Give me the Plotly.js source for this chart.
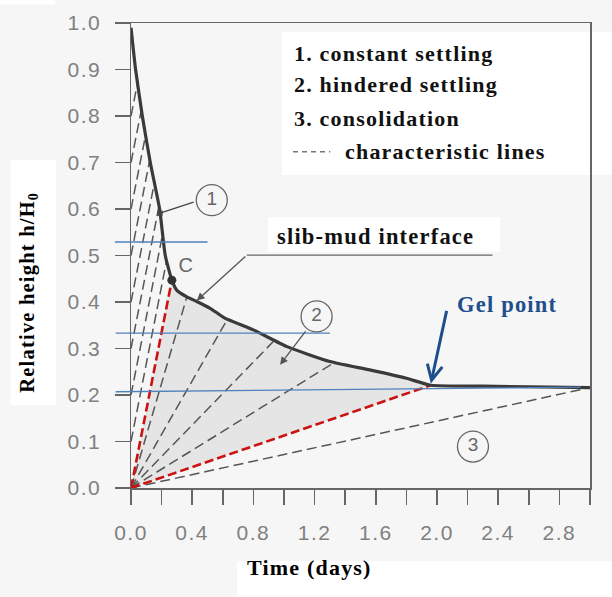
<!DOCTYPE html>
<html><head><meta charset="utf-8">
<script src="https://cdn.plot.ly/plotly-3.0.1.min.js"></script>
<style>
html,body{margin:0;padding:0;background:#fff;}
#chart{width:612px;height:597px;}
.annotation-text{letter-spacing:1.2px;}
.xtick text,.ytick text{letter-spacing:1.5px;}
</style>
</head><body><div id="chart"></div>
<script>
// ---- data ----
const curveT = [0, 0.03, 0.074, 0.126, 0.187, 0.224, 0.267, 0.30, 0.365, 0.43, 0.52, 0.61, 0.80, 1.02, 1.30, 1.56, 1.80, 1.96, 2.3, 3.0];
const curveH = [0.99, 0.90, 0.80, 0.70, 0.60, 0.50, 0.447, 0.425, 0.411, 0.401, 0.386, 0.366, 0.340, 0.304, 0.272, 0.254, 0.236, 0.221, 0.219, 0.216];
const pointC = {t: 0.267, h: 0.447};
const gelPoint = {t: 1.96, h: 0.221};
const consolEnd = {t: 3.0, h: 0.216};
// region 1 characteristics: start on the h axis, end on the interface
const r1StartH = [0.1, 0.2, 0.3, 0.4, 0.5, 0.6, 0.7, 0.8];
const r1EndT   = [0.232, 0.208, 0.183, 0.155, 0.125, 0.096, 0.067, 0.039];
const r1EndH   = [0.488, 0.548, 0.606, 0.660, 0.710, 0.760, 0.812, 0.865];
// region 2 fan from the origin
const fanEndT = [0.365, 0.63, 0.93, 1.32];
const fanEndH = [0.411, 0.363, 0.315, 0.268];
// blue reference lines
const blueStartT = [-0.105, -0.10, -0.10];
const blueStartH = [0.529, 0.333, 0.207];
const blueEndT   = [0.50, 1.30, 2.94];
const blueEndH   = [0.529, 0.333, 0.217];
// labels
const xTickVals = [0, 0.4, 0.8, 1.2, 1.6, 2.0, 2.4, 2.8];
const xTickText = ["0.0", "0.4", "0.8", "1.2", "1.6", "2.0", "2.4", "2.8"];
const legendLines = ["1. constant settling", "2. hindered settling", "3. consolidation", "characteristic lines"];
const circleLabels = ["1", "2", "3"];
const circleT = [0.528, 1.213, 2.235];
const circleH = [0.619, 0.369, 0.089];
const leader1 = {fromT: 0.419, fromH: 0.616, toT: 0.19, toH: 0.591};
const leader2 = {fromT: 1.148, fromH: 0.340, toT: 0.974, toH: 0.265};
const slibLeaderT = [2.363, 0.757];
const slibLeaderH = [0.501, 0.501];
const slibTip = {t: 0.43, h: 0.403};
const gelArrowTail = {t: 2.065, h: 0.384};
const gelTextPos = {t: 2.458, h: 0.394};
const xRange = [0, 3.0];

// ---- helpers ----
function segs(xs, ys, startsH) {
  const X = [], Y = [];
  for (let i = 0; i < xs.length; i++) {
    X.push(0, xs[i], null);
    Y.push(startsH ? startsH[i] : 0, ys[i], null);
  }
  return {X, Y};
}
const gray = '#555555';
const serif = 'Liberation Serif, Times New Roman, serif';
const sans = 'Liberation Sans, Arial, sans-serif';

// shaded region (origin -> C -> interface -> gel -> origin)
const fillT = [0], fillH = [0];
curveT.forEach((t, i) => { if (t >= pointC.t && t <= gelPoint.t) { fillT.push(t); fillH.push(curveH[i]); } });
fillT.push(0); fillH.push(0);

const r1 = segs(r1EndT, r1EndH, r1StartH);
const fan = segs(fanEndT.concat([consolEnd.t]), fanEndH.concat([consolEnd.h]));

const traces = [
  {x: fillT, y: fillH, fill: 'toself', fillcolor: 'rgba(190,190,190,0.3)', line: {width: 0}, mode: 'lines', hoverinfo: 'skip'},
  {x: r1.X, y: r1.Y, mode: 'lines', line: {color: gray, width: 1.5, dash: '10px,5px'}},
  {x: fan.X, y: fan.Y, mode: 'lines', line: {color: gray, width: 1.5, dash: '10px,5px'}},
  {x: [0, pointC.t, null, 0, gelPoint.t], y: [0, pointC.h, null, 0, gelPoint.h], mode: 'lines', line: {color: '#cc1111', width: 2.6, dash: '9px,4px'}},
  {x: slibLeaderT, y: slibLeaderH, mode: 'lines', line: {color: '#666', width: 1.3}},
  {x: curveT, y: curveH, mode: 'lines', line: {color: '#3a3a3a', width: 3.2, shape: 'spline', smoothing: 0.5}},
  {x: [pointC.t], y: [pointC.h], mode: 'markers', marker: {color: '#333', size: 9}},
  {x: circleT, y: circleH, mode: 'markers+text', text: circleLabels, textposition: 'middle center',
   textfont: {family: sans, size: 19, color: '#666'}, cliponaxis: false,
   marker: {symbol: 'circle-open', size: 31, color: '#666', line: {width: 1.3, color: '#666'}}},
  {x: [pointC.t + 0.09], y: [pointC.h + 0.028], mode: 'text', text: ['C'], textposition: 'middle center',
   textfont: {family: sans, size: 20, color: '#666'}}
];

const shapes = [];
// white paste-over boxes (page decoration)
function box(x0, y0, x1, y1) { shapes.push({type: 'rect', xref: 'paper', yref: 'paper', x0, y0, x1, y1, fillcolor: '#ffffff', line: {width: 0}, layer: 'below'}); }
box(-0.285, 1.04, -0.165, 1.2);
box(0.329, 0.673, 1.05, 0.981);
box(0.299, 0.508, 0.804, 0.583);
box(-0.263, 0.178, -0.163, 0.705);
box(0.231, -0.157, 1.05, -0.234);
// blue lines (x in axis-domain units so they can reach past the axis)
for (let i = 0; i < blueStartH.length; i++) {
  shapes.push({type: 'line', xref: 'x domain', yref: 'y',
    x0: blueStartT[i] / xRange[1], y0: blueStartH[i], x1: blueEndT[i] / xRange[1], y1: blueEndH[i],
    line: {color: '#4f81bd', width: 1.3}});
}
// legend dash sample
shapes.push({type: 'line', xref: 'paper', yref: 'paper', x0: 0.353, x1: 0.434, y0: 0.723, y1: 0.723, line: {color: '#777', width: 1.5, dash: '5px,4px'}});

const annotations = [];
const legendY = [0.935, 0.867, 0.795, 0.723];
legendLines.forEach((s, i) => annotations.push({xref: 'paper', yref: 'paper', x: i === 3 ? 0.462 : 0.3505, y: legendY[i],
  xanchor: 'left', yanchor: 'middle', showarrow: false, text: '<b>' + s + '</b>', font: {family: serif, size: 22, color: '#111'}}));
annotations.push({xref: 'paper', yref: 'paper', x: 0.533, y: 0.540, showarrow: false, text: '<b>slib-mud interface</b>', font: {family: serif, size: 22.5, color: '#111'}});
annotations.push({xref: 'x', yref: 'y', x: gelTextPos.t, y: gelTextPos.h, showarrow: false, text: '<b>Gel point</b>', font: {family: serif, size: 22.5, color: '#1f4e8c'}});
annotations.push({xref: 'x', yref: 'y', axref: 'x', ayref: 'y', x: gelPoint.t, y: gelPoint.h + 0.004, ax: gelArrowTail.t, ay: gelArrowTail.h,
  showarrow: true, arrowhead: 5, arrowsize: 1, arrowwidth: 3, arrowcolor: '#1f4e8c', text: ''});
annotations.push({xref: 'x', yref: 'y', axref: 'x', ayref: 'y', x: slibTip.t, y: slibTip.h, ax: slibLeaderT[1], ay: slibLeaderH[1],
  showarrow: true, arrowhead: 2, arrowsize: 1.2, arrowwidth: 1.3, arrowcolor: '#555', text: ''});
annotations.push({xref: 'x', yref: 'y', axref: 'x', ayref: 'y', x: leader1.toT, y: leader1.toH, ax: leader1.fromT, ay: leader1.fromH,
  showarrow: true, arrowhead: 7, arrowsize: 1, arrowwidth: 1.3, arrowcolor: '#444', text: ''});
annotations.push({xref: 'x', yref: 'y', axref: 'x', ayref: 'y', x: leader2.toT, y: leader2.toH, ax: leader2.fromT, ay: leader2.fromH,
  showarrow: true, arrowhead: 2, arrowsize: 1.2, arrowwidth: 1.3, arrowcolor: '#555', text: ''});
annotations.push({xref: 'paper', yref: 'paper', x: -0.254, y: 0.422, showarrow: false, textangle: -90,
  text: '<b>Relative height h/H<sub>0</sub></b>', font: {family: serif, size: 20.5, color: '#000'}});
annotations.push({xref: 'paper', yref: 'paper', x: 0.388, y: -0.2015, showarrow: false,
  text: '<b>Time (days)</b>', font: {family: serif, size: 22, color: '#000'}});

const axisCommon = {showline: true, mirror: true, linecolor: '#666', linewidth: 1.5, ticks: 'outside', ticklen: 15,
  tickcolor: '#666', tickwidth: 1.5, showgrid: false, zeroline: false, fixedrange: true,
  tickfont: {family: sans, size: 21, color: '#808080'}};

const layout = {
  width: 612, height: 597,
  margin: {l: 130.7, r: 22, t: 23, b: 109, pad: 0},
  paper_bgcolor: '#f6f6f6', plot_bgcolor: '#f6f6f6',
  showlegend: false,
  xaxis: Object.assign({}, axisCommon, {range: xRange, tickvals: xTickVals, ticktext: xTickText, ticklabelstandoff: 10,
    minor: {dtick: 0.2, ticks: 'outside', ticklen: 15, tickcolor: '#666', tickwidth: 1.5, showgrid: false}}),
  yaxis: Object.assign({}, axisCommon, {range: [0, 1], dtick: 0.1, tickformat: '.1f', ticklabelstandoff: 9}),
  shapes, annotations
};
Plotly.newPlot('chart', traces, layout, {displayModeBar: false, staticPlot: true});
</script>
</body></html>
